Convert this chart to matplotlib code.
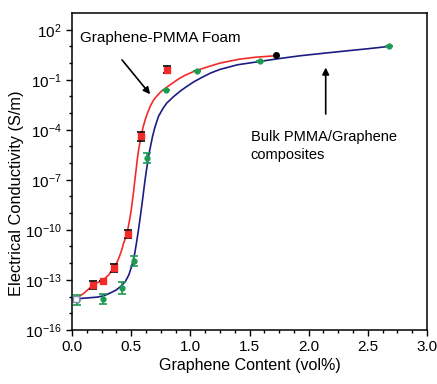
import matplotlib
matplotlib.use('Agg')
import matplotlib.pyplot as plt
import numpy as np
from matplotlib.ticker import FixedLocator, AutoMinorLocator, NullFormatter

plt.rcParams['font.family'] = ['Liberation Sans', 'DejaVu Sans']

# foam data (log10 of conductivity in S/m), error in decades
foam_x = [0.175, 0.257, 0.35, 0.47, 0.58, 0.80]
foam_log = [-13.3, -13.06, -12.3, -10.26, -4.4, -0.4]
foam_err = [0.25, 0.0, 0.26, 0.24, 0.25, 0.2]
foam_open_x = [0.03]
foam_open_log = [-14.15]
foam_end_x = [1.72]
foam_end_log = [0.5]

# bulk composite data
bulk_x = [0.045, 0.257, 0.42, 0.525, 0.63, 0.79, 1.057, 1.59, 2.68]
bulk_log = [-14.2, -14.14, -13.5, -11.86, -5.7, -1.6, -0.5, 0.1, 1.0]
bulk_err = [0.3, 0.3, 0.35, 0.3, 0.3, 0.0, 0.0, 0.0, 0.0]

# fitted curves
foam_fit_x = [0.0, 0.05, 0.10, 0.14, 0.18, 0.22, 0.265, 0.31, 0.35, 0.38, 0.40, 0.42,
              0.435, 0.455, 0.47, 0.485, 0.50, 0.51, 0.52, 0.53, 0.54, 0.55, 0.56,
              0.58, 0.60, 0.62, 0.64, 0.66, 0.69, 0.72, 0.75, 0.79, 0.84, 0.89,
              0.95, 1.03, 1.10, 1.25, 1.42, 1.55, 1.72]
foam_fit_log = [-14.3, -14.05, -13.8, -13.55, -13.3, -13.15, -13.0, -12.7, -12.3,
                -11.95, -11.6, -11.2, -10.8, -10.45, -10.0, -9.45, -8.8, -8.25, -7.7,
                -7.05, -6.45, -5.85, -5.3, -4.5, -3.85, -3.35, -2.95, -2.6, -2.2,
                -1.95, -1.72, -1.5, -1.25, -1.0, -0.75, -0.5, -0.33, 0.0, 0.24, 0.35, 0.44]
bulk_fit_x = [0.0, 0.10, 0.21, 0.27, 0.32, 0.37, 0.41, 0.45, 0.48, 0.505, 0.53, 0.545,
              0.56, 0.575, 0.59, 0.60, 0.615, 0.63, 0.65, 0.68, 0.70, 0.73, 0.77,
              0.80, 0.86, 0.92, 0.97, 1.03, 1.10, 1.17, 1.25, 1.40, 1.59, 1.75,
              1.93, 2.10, 2.36, 2.50, 2.68]
bulk_fit_log = [-14.16, -14.1, -14.04, -13.95, -13.8, -13.62, -13.4, -13.1, -12.7,
                -12.15, -11.4, -10.75, -10.05, -9.3, -8.5, -7.95, -7.1, -6.35, -5.45,
                -4.4, -3.85, -3.2, -2.7, -2.4, -2.0, -1.65, -1.4, -1.12, -0.85, -0.6,
                -0.38, -0.1, 0.1, 0.27, 0.44, 0.57, 0.76, 0.86, 1.0]

red = '#f42a2a'
navy = '#1c1c82'
green = '#1d9a52'

fig = plt.figure(figsize=(4.37, 3.84), dpi=100)
ax = fig.add_axes([0.165, 0.141, 0.812, 0.825])

ax.plot(foam_fit_x, 10.0 ** np.array(foam_fit_log), color=red, lw=1.2, zorder=2)
ax.plot(bulk_fit_x, 10.0 ** np.array(bulk_fit_log), color=navy, lw=1.2, zorder=2)

fy = 10.0 ** np.array(foam_log)
fe = np.array(foam_err)
ax.errorbar(foam_x, fy, yerr=[fy - fy / 10 ** fe, fy * 10 ** fe - fy], fmt='s',
            ms=4, mfc=red, mec=red, ecolor='black', elinewidth=1.2, capsize=3,
            capthick=1.2, zorder=4)
ax.plot(foam_open_x, 10.0 ** np.array(foam_open_log), 's', ms=4, mfc='white',
        mec='#8090b0', zorder=4)
ax.plot(foam_end_x, 10.0 ** np.array(foam_end_log), 'o', ms=4, color='black', zorder=4)

by = 10.0 ** np.array(bulk_log)
be = np.array(bulk_err)
ax.errorbar(bulk_x, by, yerr=[by - by / 10 ** be, by * 10 ** be - by], fmt='o',
            ms=3.5, mfc=green, mec=green, ecolor=green, elinewidth=1.2, capsize=3,
            capthick=1.2, zorder=3)

ax.set_yscale('log')
ax.set_xlim(0, 3.0)
ax.set_ylim(1e-16, 1e3)

ax.yaxis.set_major_locator(FixedLocator(10.0 ** np.arange(-16, 3, 3)))
ax.yaxis.set_minor_locator(FixedLocator(10.0 ** np.arange(-16, 3, 1)))
ax.yaxis.set_minor_formatter(NullFormatter())
ax.xaxis.set_major_locator(FixedLocator([0, 0.5, 1.0, 1.5, 2.0, 2.5, 3.0]))
ax.xaxis.set_minor_locator(AutoMinorLocator(4))
ax.set_xticklabels(['0.0', '0.5', '1.0', '1.5', '2.0', '2.5', '3.0'])

ax.tick_params(which='major', direction='out', length=4, width=1, labelsize=11,
               top=False, right=False)
ax.tick_params(which='minor', direction='out', length=2.5, width=1, top=False, right=False)
for s in ax.spines.values():
    s.set_linewidth(1.1)

ax.set_xlabel('Graphene Content (vol%)', fontsize=11.5, labelpad=3)
ax.set_ylabel('Electrical Conductivity (S/m)', fontsize=11.8)
ax.yaxis.set_label_coords(-0.135, 0.43)

ax.text(0.068, 10 ** 1.52, 'Graphene-PMMA Foam', fontsize=11, va='center', ha='left')
ax.annotate('', xy=(0.675, 10 ** -2.0), xytext=(0.407, 10 ** 0.32),
            arrowprops=dict(arrowstyle='-|>', color='black', lw=1.2, mutation_scale=10))
ax.text(1.51, 10 ** -4.96, 'Bulk PMMA/Graphene\ncomposites', fontsize=10.5,
        va='center', ha='left', linespacing=1.35)
ax.annotate('', xy=(2.144, 10 ** -0.1), xytext=(2.144, 10 ** -3.22),
            arrowprops=dict(arrowstyle='-|>', color='black', lw=1.2, mutation_scale=10))

fig.savefig('out.png', dpi=100)
